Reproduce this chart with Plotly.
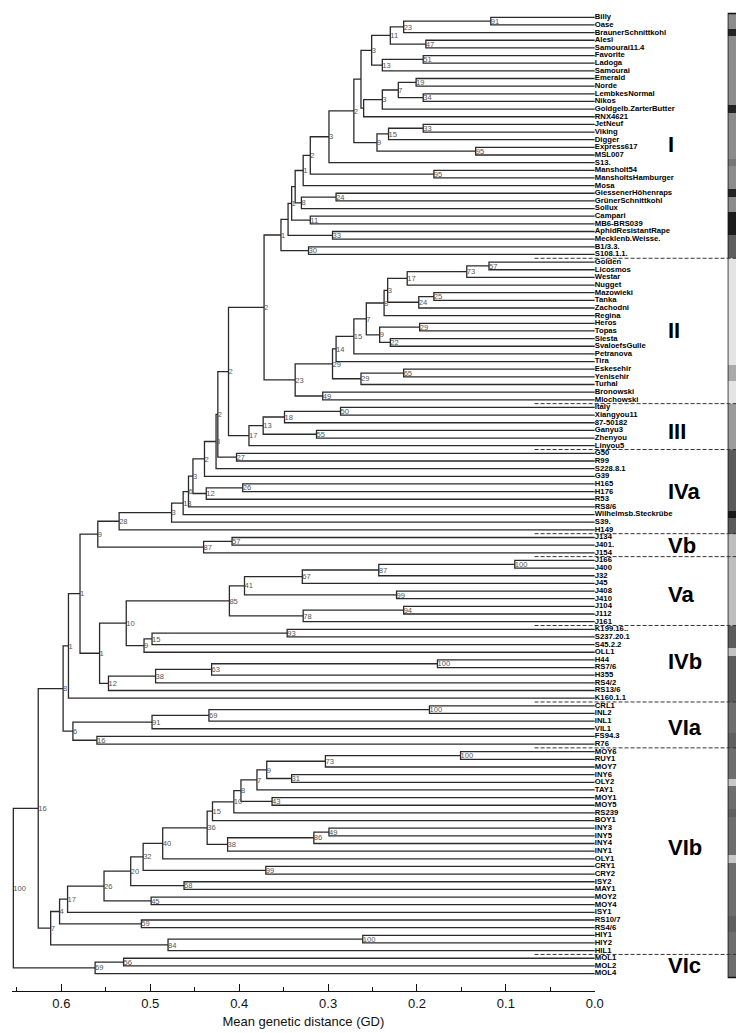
import plotly.graph_objects as go

# ---------------- data ----------------
leaves = [
    "Billy", "Oase", "BraunerSchnittkohl", "Alesi", "Samourai11.4", "Favorite", "Ladoga", "Samourai",
    "Emerald", "Norde", "LembkesNormal", "Nikos", "Goldgelb.ZarterButter", "RNX4621", "JetNeuf", "Viking",
    "Digger", "Express617", "MSL007", "S13.", "Mansholt54", "MansholtsHamburger", "Mosa",
    "GiessenerHöhenraps", "GrünerSchnittkohl", "Sollux", "Campari", "MB6-BRS039", "AphidResistantRape",
    "Mecklenb.Weisse.", "B1/3.3.", "S108.1.1.",
    "Golden", "Licosmos", "Westar", "Nugget", "Mazowieki", "Tanka", "Zachodni", "Regina", "Heros", "Topas",
    "Siesta", "SvaloefsGulle", "Petranova", "Tira", "Eskesehir", "Yenisehir", "Turhal", "Bronowski",
    "Mlochowski",
    "Italy", "Xiangyou11", "87-50182", "Ganyu3", "Zhenyou", "Linyou5",
    "G50", "R99", "S228.8.1", "G39", "H165", "H176", "R53", "RS8/6", "Wilhelmsb.Steckrübe", "S39.", "H149",
    "J134", "J401.", "J154",
    "J166", "J400", "J32", "J45", "J408", "J410", "J104", "J112", "J161",
    "K199.16..", "S237.20.1", "S45.2.2", "OLL1", "H44", "RS7/6", "H355", "RS4/2", "RS13/6", "K160.1.1",
    "CRL1", "INL2", "INL1", "VIL1", "FS94.3", "R76",
    "MOY6", "RUY1", "MOY7", "INY6", "OLY2", "TAY1", "MOY1", "MOY5", "RS239", "BOY1", "INY3", "INY5",
    "INY4", "INY1", "OLY1", "CRY1", "CRY2", "ISY2", "MAY1", "MOY2", "MOY4", "ISY1", "RS10/7", "RS4/6",
    "HIY1", "HIY2", "HIL1",
    "MOL1", "MOL2", "MOL4",
]

# merges: (node id, child a, child b, genetic distance, bootstrap label)
merges = [
    ("I_91", "Billy", "Oase", 0.117, "91"),
    ("I_23", "I_91", "BraunerSchnittkohl", 0.215, "23"),
    ("I_47", "Alesi", "Samourai11.4", 0.190, "47"),
    ("I_11", "I_23", "I_47", 0.230, "11"),
    ("I_51", "Favorite", "Ladoga", 0.193, "51"),
    ("I_13", "I_51", "Samourai", 0.239, "13"),
    ("I_3a", "I_11", "I_13", 0.251, "3"),
    ("I_19", "Emerald", "Norde", 0.201, "19"),
    ("I_34", "LembkesNormal", "Nikos", 0.193, "34"),
    ("I_7", "I_19", "I_34", 0.221, "7"),
    ("I_3b", "I_7", "Goldgelb.ZarterButter", 0.239, "3"),
    ("I_b", "I_3b", "RNX4621", 0.260, ""),
    ("I_c", "I_3a", "I_b", 0.263, ""),
    ("I_33", "JetNeuf", "Viking", 0.193, "33"),
    ("I_15", "I_33", "Digger", 0.232, "15"),
    ("I_95", "Express617", "MSL007", 0.134, "95"),
    ("I_9", "I_15", "I_95", 0.245, "9"),
    ("I_d", "I_c", "I_9", 0.271, "2"),
    ("I_e", "I_d", "S13.", 0.299, "3"),
    ("I_95b", "Mansholt54", "MansholtsHamburger", 0.181, "95"),
    ("I_f", "I_e", "I_95b", 0.320, "2"),
    ("I_g", "I_f", "Mosa", 0.328, "1"),
    ("I_24", "GiessenerHöhenraps", "GrünerSchnittkohl", 0.291, "24"),
    ("I_8", "I_24", "Sollux", 0.330, "8"),
    ("I_h", "I_g", "I_8", 0.337, ""),
    ("I_11b", "Campari", "MB6-BRS039", 0.320, "11"),
    ("I_i", "I_h", "I_11b", 0.341, "1"),
    ("I_33b", "AphidResistantRape", "Mecklenb.Weisse.", 0.295, "33"),
    ("I_j", "I_i", "I_33b", 0.345, ""),
    ("I_30", "B1/3.3.", "S108.1.1.", 0.322, "30"),
    ("I_k", "I_j", "I_30", 0.353, "1"),
    ("II_57", "Golden", "Licosmos", 0.119, "57"),
    ("II_73", "II_57", "Westar", 0.144, "73"),
    ("II_17", "II_73", "Nugget", 0.211, "17"),
    ("II_25", "Mazowieki", "Tanka", 0.181, "25"),
    ("II_24", "II_25", "Zachodni", 0.198, "24"),
    ("II_3", "II_17", "II_24", 0.233, "3"),
    ("II_8", "II_3", "Regina", 0.237, "8"),
    ("II_29a", "Heros", "Topas", 0.197, "29"),
    ("II_22", "Siesta", "SvaloefsGulle", 0.230, "22"),
    ("II_9", "II_29a", "II_22", 0.242, "9"),
    ("II_7", "II_8", "II_9", 0.257, "7"),
    ("II_15", "II_7", "Petranova", 0.271, "15"),
    ("II_14", "II_15", "Tira", 0.291, "14"),
    ("II_65", "Eskesehir", "Yenisehir", 0.215, "65"),
    ("II_29b", "II_65", "Turhal", 0.263, "29"),
    ("II_29c", "II_14", "II_29b", 0.295, "29"),
    ("II_49", "Bronowski", "Mlochowski", 0.306, "49"),
    ("II_23", "II_29c", "II_49", 0.337, "23"),
    ("I_II", "I_k", "II_23", 0.372, "2"),
    ("III_50", "Italy", "Xiangyou11", 0.286, "50"),
    ("III_18", "III_50", "87-50182", 0.349, "18"),
    ("III_55", "Ganyu3", "Zhenyou", 0.313, "55"),
    ("III_13", "III_18", "III_55", 0.373, "13"),
    ("III_17", "III_13", "Linyou5", 0.389, "17"),
    ("M_2a", "I_II", "III_17", 0.412, "2"),
    ("IVa_27", "G50", "R99", 0.403, "27"),
    ("M_2b", "M_2a", "IVa_27", 0.424, "2"),
    ("M_3a", "M_2b", "S228.8.1", 0.426, "3"),
    ("M_2c", "M_3a", "G39", 0.439, "2"),
    ("IVa_26", "H165", "H176", 0.396, "26"),
    ("IVa_12", "IVa_26", "R53", 0.437, "12"),
    ("M_3b", "M_2c", "IVa_12", 0.452, "3"),
    ("M_6", "M_3b", "RS8/6", 0.457, "6"),
    ("M_13", "M_6", "Wilhelmsb.Steckrübe", 0.463, "13"),
    ("M_3c", "M_13", "S39.", 0.476, "3"),
    ("M_28", "M_3c", "H149", 0.535, "28"),
    ("Vb_57", "J134", "J401.", 0.408, "57"),
    ("Vb_87", "Vb_57", "J154", 0.440, "87"),
    ("M_9", "M_28", "Vb_87", 0.559, "9"),
    ("Va_100", "J166", "J400", 0.090, "100"),
    ("Va_87", "Va_100", "J32", 0.243, "87"),
    ("Va_67", "Va_87", "J45", 0.329, "67"),
    ("Va_99", "J408", "J410", 0.223, "99"),
    ("Va_41", "Va_67", "Va_99", 0.394, "41"),
    ("Va_94", "J104", "J112", 0.215, "94"),
    ("Va_78", "Va_94", "J161", 0.328, "78"),
    ("Va_85", "Va_41", "Va_78", 0.411, "85"),
    ("IVb_93", "K199.16..", "S237.20.1", 0.346, "93"),
    ("IVb_15", "IVb_93", "S45.2.2", 0.498, "15"),
    ("IVb_9", "IVb_15", "OLL1", 0.507, "9"),
    ("M_10", "Va_85", "IVb_9", 0.527, "10"),
    ("IVb_100", "H44", "RS7/6", 0.177, "100"),
    ("IVb_63", "IVb_100", "H355", 0.431, "63"),
    ("IVb_38", "IVb_63", "RS4/2", 0.494, "38"),
    ("IVb_12", "IVb_38", "RS13/6", 0.547, "12"),
    ("M_1c", "M_10", "IVb_12", 0.557, "1"),
    ("M_1a", "M_9", "M_1c", 0.579, "1"),
    ("M_1b", "M_1a", "K160.1.1", 0.592, "1"),
    ("VIa_100", "CRL1", "INL2", 0.186, "100"),
    ("VIa_69", "VIa_100", "INL1", 0.434, "69"),
    ("VIa_91", "VIa_69", "VIL1", 0.498, "91"),
    ("VIa_16", "FS94.3", "R76", 0.560, "16"),
    ("VIa_6", "VIa_91", "VIa_16", 0.587, "6"),
    ("M_8", "M_1b", "VIa_6", 0.598, "8"),
    ("VIb_100a", "MOY6", "RUY1", 0.151, "100"),
    ("VIb_73", "VIb_100a", "MOY7", 0.303, "73"),
    ("VIb_31", "INY6", "OLY2", 0.341, "31"),
    ("VIb_9", "VIb_73", "VIb_31", 0.369, "9"),
    ("VIb_7a", "VIb_9", "TAY1", 0.380, "7"),
    ("VIb_43", "MOY1", "MOY5", 0.363, "43"),
    ("VIb_8", "VIb_7a", "VIb_43", 0.398, "8"),
    ("VIb_10", "VIb_8", "RS239", 0.406, "10"),
    ("VIb_15", "VIb_10", "BOY1", 0.430, "15"),
    ("VIb_49", "INY3", "INY5", 0.299, "49"),
    ("VIb_86", "VIb_49", "INY4", 0.316, "86"),
    ("VIb_38", "VIb_86", "INY1", 0.413, "38"),
    ("VIb_36", "VIb_15", "VIb_38", 0.436, "36"),
    ("VIb_40", "VIb_36", "OLY1", 0.486, "40"),
    ("VIb_99", "CRY1", "CRY2", 0.370, "99"),
    ("VIb_32", "VIb_40", "VIb_99", 0.508, "32"),
    ("VIb_68", "ISY2", "MAY1", 0.462, "68"),
    ("VIb_20", "VIb_32", "VIb_68", 0.522, "20"),
    ("VIb_45", "MOY2", "MOY4", 0.499, "45"),
    ("VIb_26", "VIb_20", "VIb_45", 0.552, "26"),
    ("VIb_17", "VIb_26", "ISY1", 0.593, "17"),
    ("VIb_59", "RS10/7", "RS4/6", 0.510, "59"),
    ("VIb_4", "VIb_17", "VIb_59", 0.602, "4"),
    ("VIb_100b", "HIY1", "HIY2", 0.261, "100"),
    ("VIb_84", "VIb_100b", "HIL1", 0.480, "84"),
    ("VIb_7b", "VIb_4", "VIb_84", 0.612, "7"),
    ("M_16", "M_8", "VIb_7b", 0.626, "16"),
    ("VIc_56", "MOL1", "MOL2", 0.530, "56"),
    ("VIc_69", "VIc_56", "MOL4", 0.562, "69"),
    ("root", "M_16", "VIc_69", 0.654, "100"),
]

group_names = ["I", "II", "III", "IVa", "Vb", "Va", "IVb", "VIa", "VIb", "VIc"]
group_label_row = [16.6, 41.0, 54.2, 62.0, 69.0, 75.4, 84.2, 92.8, 108.5, 124.0]
group_last_leaf = [31, 50, 56, 67, 70, 79, 89, 95, 122]

# grey level (0 = black, 255 = white) of the side bar, one per leaf
bar_grey = (
    [140, 140, 35, 140, 140, 140, 140, 140, 140, 140, 140, 140, 35, 140, 140, 140,
     140, 140, 140, 118, 140, 140, 140, 35, 140, 140, 28, 28, 28, 95, 95, 95]
    + [228] * 14 + [170, 170, 228, 228, 228]
    + [155] * 6
    + [90, 90, 90, 90, 90, 90, 90, 90, 25, 90, 90]
    + [190] * 3
    + [190] * 9
    + [92, 92, 92, 195, 92, 92, 92, 92, 92, 92]
    + [110, 110, 110, 110, 96, 96]
    + [110, 110, 110, 110, 200, 110, 110, 110, 96, 110, 110, 110, 110, 110, 200, 110,
       110, 110, 110, 110, 110, 110, 96, 96, 110, 110, 110]
    + [110, 110, 110]
)

x_ticks = [0.6, 0.5, 0.4, 0.3, 0.2, 0.1, 0.0]
x_tick_text = ["0.6", "0.5", "0.4", "0.3", "0.2", "0.1", "0.0"]
x_title = "Mean genetic distance (GD)"

# ---------------- geometry ----------------
W, H = 744, 1033
PX_PER_UNIT = 900.0
X_ZERO = 594.0
X_LEFT = 4.0
ROW0, ROW = 9.3, 7.65
AXIS_Y = 983.0

x_max = (X_ZERO - X_LEFT) / PX_PER_UNIT
y_top = -ROW0 / ROW
y_bot = (AXIS_Y - ROW0) / ROW

pos = {name: (0.0, float(i)) for i, name in enumerate(leaves)}
lx, ly = [], []
bx, by, bt = [], [], []
for nid, a, b, h, bs in merges:
    ha, ya = pos[a]
    hb, yb = pos[b]
    lx += [ha, h, h, hb, None]
    ly += [ya, ya, yb, yb, None]
    ym = (ya + yb) / 2.0
    pos[nid] = (h, ym)
    if bs:
        bx.append(h)
        by.append(ym + 0.1)
        bt.append(bs)

FONT = "Liberation Sans, Arial, sans-serif"

fig = go.Figure()
fig.add_trace(go.Scatter(x=lx, y=ly, mode="lines", line=dict(color="#2a2a2a", width=1.3),
                         hoverinfo="skip", showlegend=False))
fig.add_trace(go.Scatter(x=bx, y=by, mode="text", text=bt, textposition="middle right",
                         textfont=dict(family=FONT, size=7.6, color="#555555"),
                         cliponaxis=False, hoverinfo="skip", showlegend=False))
fig.add_trace(go.Scatter(x=[0.0] * len(leaves), y=list(range(len(leaves))), mode="text",
                         text=leaves, textposition="middle right",
                         textfont=dict(family=FONT, size=7.7, color="#000000", weight="bold"),
                         cliponaxis=False, hoverinfo="skip", showlegend=False))
fig.add_trace(go.Heatmap(x=[0.5], y=list(range(len(leaves))), z=[[g] for g in bar_grey],
                         colorscale=[[0, "rgb(0,0,0)"], [1, "rgb(255,255,255)"]],
                         zmin=0, zmax=255, showscale=False, xaxis="x2", yaxis="y",
                         hoverinfo="skip"))

shapes = [dict(type="rect", xref="x2", yref="y", x0=0, x1=1, y0=-0.5, y1=len(leaves) - 0.5,
               line=dict(color="#111111", width=1.5), fillcolor="rgba(0,0,0,0)")]
for b in group_last_leaf:
    shapes.append(dict(type="line", xref="paper", yref="y", x0=533 / W, x1=742 / W,
                       y0=b + 0.5, y1=b + 0.5, line=dict(color="#333333", width=1, dash="4px,2px")))

annotations = []
for name, row in zip(group_names, group_label_row):
    annotations.append(dict(xref="paper", yref="y", x=666 / W, y=row, text=name, showarrow=False,
                            xanchor="left", yanchor="middle",
                            font=dict(family=FONT, size=22, color="#000000", weight="bold")))

fig.update_layout(
    width=W, height=H, margin=dict(l=0, r=0, t=0, b=0),
    paper_bgcolor="white", plot_bgcolor="white",
    shapes=shapes, annotations=annotations,
    xaxis=dict(domain=[X_LEFT / W, X_ZERO / W], range=[x_max, 0.0], showgrid=False, zeroline=False,
               showline=True, linecolor="#111111", linewidth=1.3,
               ticks="inside", ticklen=7, tickwidth=1.3, tickcolor="#111111",
               tickvals=x_ticks, ticktext=x_tick_text,
               tickfont=dict(family=FONT, size=13, color="#111111"),
               minor=dict(ticks="inside", ticklen=4, dtick=0.05, tickcolor="#111111", tickwidth=1.3),
               title=dict(text=x_title, font=dict(family=FONT, size=13, color="#111111"), standoff=7),
               anchor="y"),
    xaxis2=dict(domain=[728.5 / W, 742.5 / W], range=[0, 1], visible=False, anchor="y"),
    yaxis=dict(domain=[(H - AXIS_Y) / H, 1.0], range=[y_bot, y_top], visible=False,
               showgrid=False, zeroline=False),
)

fig.write_html("out.html")
